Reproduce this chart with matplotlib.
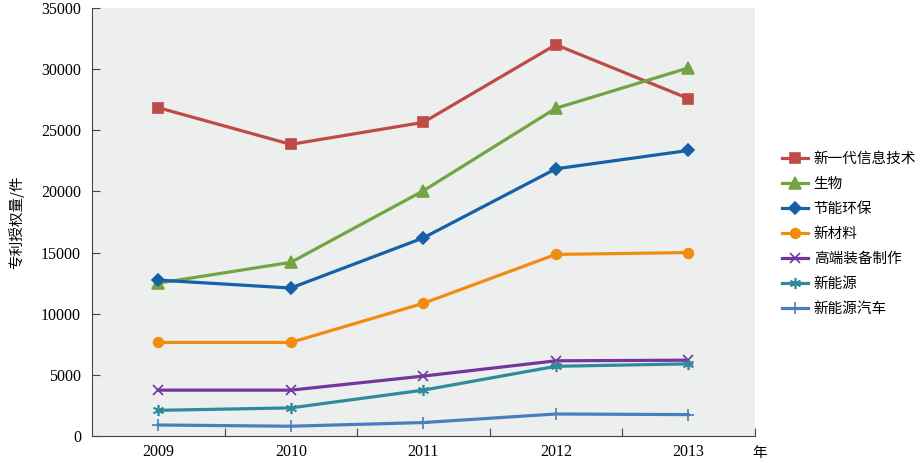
import matplotlib
matplotlib.use('Agg')
import matplotlib.pyplot as plt
import numpy as np

years = ['2009', '2010', '2011', '2012', '2013']
names = ['新一代信息技术', '生物', '节能环保', '新材料', '高端装备制作', '新能源', '新能源汽车']
xinxi = [26850, 23850, 25650, 32000, 27600]
shengwu = [12500, 14200, 20050, 26800, 30100]
jieneng = [12750, 12100, 16200, 21850, 23350]
cailiao = [7650, 7650, 10850, 14850, 15000]
zhuangbei = [3750, 3750, 4900, 6150, 6200]
nengyuan = [2100, 2300, 3750, 5700, 5900]
qiche = [900, 800, 1100, 1800, 1750]

series = [xinxi, shengwu, jieneng, cailiao, zhuangbei, nengyuan, qiche]
colors = ['#BE4B48', '#72A542', '#1660A8', '#F28C0F', '#7336A0', '#2F8A9E', '#4A7EBB']
markers = ['s', '^', 'D', 'o', 'x', (6, 2, 0), '+']
msizes = [7, 8, 6.5, 7, 7, 8, 9]

cjk = ['Noto Sans CJK SC', 'DejaVu Sans']
serif = 'Liberation Serif'

fig = plt.figure(figsize=(9.24, 4.63), dpi=100)
ax = fig.add_axes([0.0996, 0.0583, 0.717, 0.9244])
ax.set_facecolor('#EDEEEE')

x = np.arange(len(years))
for vals, name, c, m, ms in zip(series, names, colors, markers, msizes):
    ax.plot(x, vals, color=c, lw=2.3, marker=m, ms=ms, mec=c, mfc=c, mew=1.2, label=name)

ax.set_xlim(-0.5, 4.5)
ax.set_ylim(0, 35000)
ax.set_yticks(np.arange(0, 35001, 5000))
ax.set_yticklabels([str(v) for v in range(0, 35001, 5000)], fontfamily=serif, fontsize=11.5)
ax.set_xticks(x + 0.5)
ax.set_xticklabels([])
ax.set_xticks(x, minor=True)
ax.set_xticklabels(years, minor=True, fontfamily=serif, fontsize=11.5)
ax.tick_params(axis='x', which='minor', length=0, pad=6)
ax.tick_params(axis='x', which='major', direction='in', length=6, color='#444444')
ax.tick_params(axis='y', direction='in', length=6, color='#444444', pad=8)
for s in ['top', 'right']:
    ax.spines[s].set_visible(False)
for s in ['left', 'bottom']:
    ax.spines[s].set_color('#444444')

ax.set_ylabel('专利授权量/件', fontfamily=cjk, fontsize=10.5, labelpad=12)
ax.text(0.997, -0.04, '年', transform=ax.transAxes, fontfamily=cjk, fontsize=10.5,
        ha='left', va='center')

leg = ax.legend(loc='center left', bbox_to_anchor=(1.021, 0.472), frameon=False,
                prop={'family': cjk, 'size': 10.5}, handlelength=1.8,
                labelspacing=0.75, handletextpad=0.4)

plt.savefig('out.png', format='png', dpi=100)
plt.close()
